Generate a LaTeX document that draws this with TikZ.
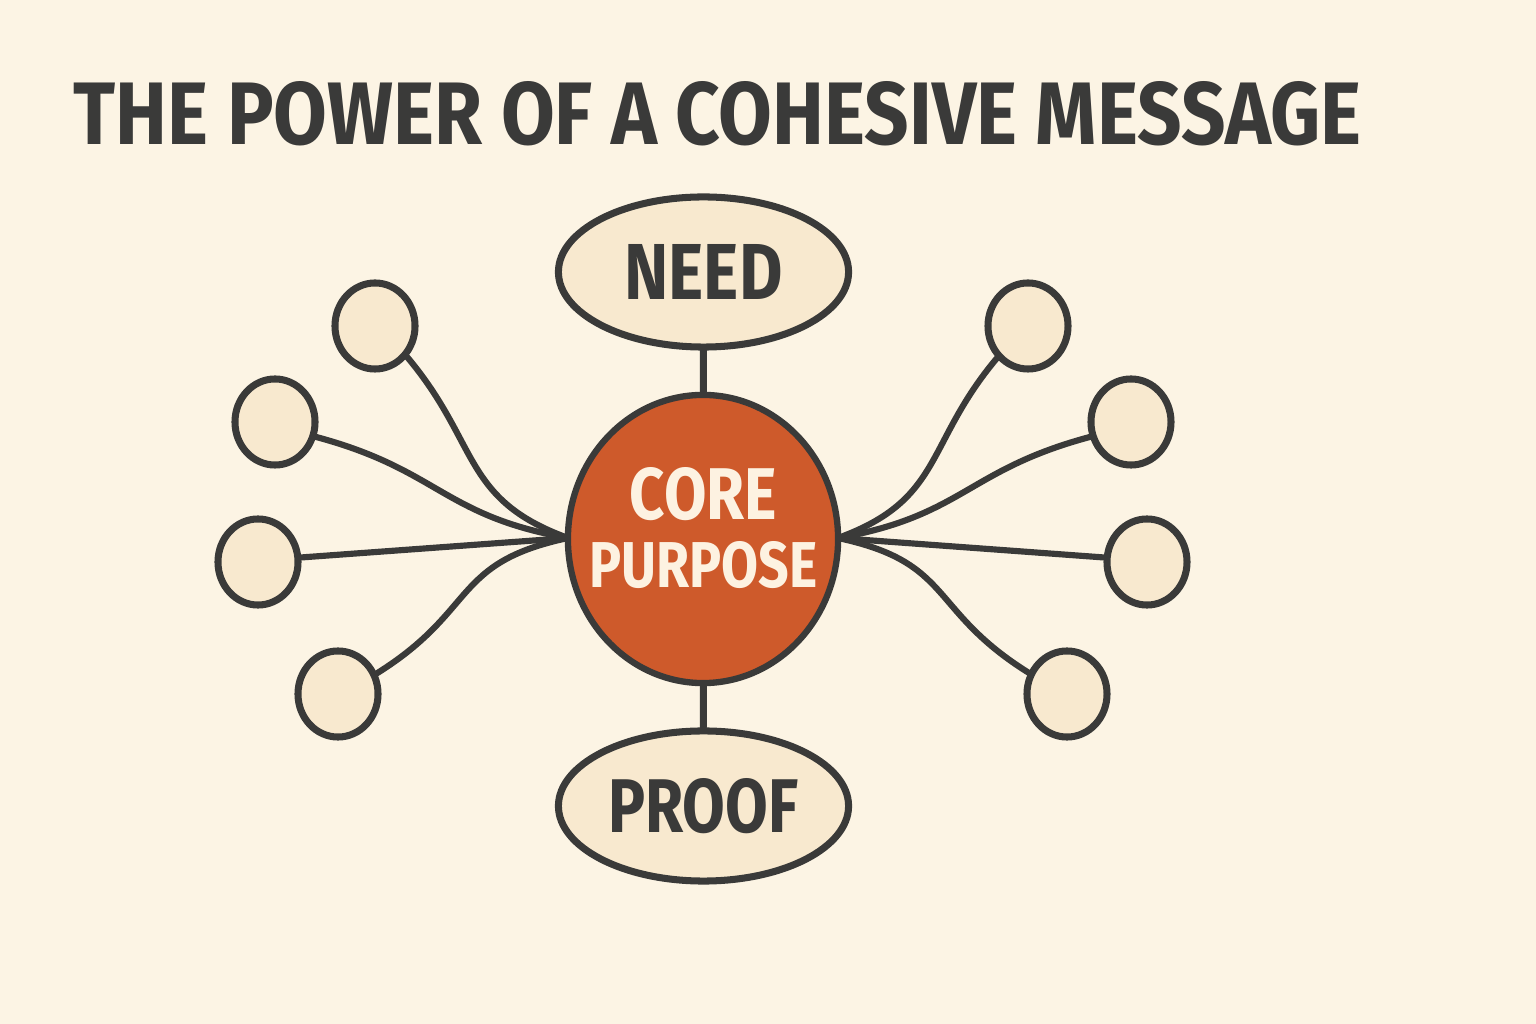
\documentclass[tikz,border=0pt]{standalone}
\usepackage{graphicx}
\usepackage{fontspec}
\setmainfont{Fira Sans}
\usetikzlibrary{shapes.geometric}
\definecolor{paper}{HTML}{FCF4E4}
\definecolor{ink}{HTML}{3A3A39}
\definecolor{leaffill}{HTML}{F8E9CF}
\definecolor{hubfill}{HTML}{CE5A2B}
\definecolor{hubtext}{HTML}{FDF2E1}
\tikzset{
  leaf/.style={ellipse,draw=ink,line width=2pt,fill=leaffill,
    minimum width=8mm,minimum height=8.6mm,inner sep=0pt},
  pill/.style={leaf,minimum width=29mm,minimum height=15mm},
  hub/.style={leaf,fill=hubfill,line width=1.8pt,minimum width=27mm,minimum height=28.8mm},
  word/.style={inner sep=0pt,anchor=base,font=\bfseries,text=ink},
  link/.style={draw=ink,line width=1.75pt,line cap=round},
}
\begin{document}
\begin{tikzpicture}[x=0.01cm,y=0.01cm]
  \fill[paper] (0,0) rectangle (1536,1024);
  \useasboundingbox (0,0) rectangle (1536,1024);
  \node[word,anchor=base west] (title) at (73,879)
    {\resizebox{12.87cm}{0.63cm}{THE POWER OF A COHESIVE MESSAGE}};
  % spokes first, so the shapes sit on top
  \coordinate (hubw) at (568,486);
  \coordinate (hube) at (838,486);
  \node[leaf] (l1) at (375,698) {};
  \node[leaf] (l2) at (275,602) {};
  \node[leaf] (l3) at (258,462) {};
  \node[leaf] (l4) at (338,330) {};
  \node[leaf] (r1) at (1028,698) {};
  \node[leaf] (r2) at (1131,602) {};
  \node[leaf] (r3) at (1147,462) {};
  \node[leaf] (r4) at (1067,330) {};
  \draw[link] (l1.-44) to[out=-50,in=160,looseness=1.2] (hubw);
  \draw[link] (l2.-20) to[out=-15,in=170,looseness=1.2] (hubw);
  \draw[link] (l3.6) -- (hubw);
  \draw[link] (l4.28) to[out=32,in=192,looseness=1.3] (hubw);
  \draw[link] (r1.-134) to[out=-130,in=20,looseness=1.2] (hube);
  \draw[link] (r2.-160) to[out=-165,in=10,looseness=1.2] (hube);
  \draw[link] (r3.174) -- (hube);
  \draw[link] (r4.151) to[out=148,in=-12,looseness=1.3] (hube);
  % hub and the two pills
  \node[hub] (core) at (703,485) {};
  \node[word,text=hubtext] (coretop) at (703.5,504) {\resizebox{1.47cm}{0.52cm}{CORE}};
  \node[word,text=hubtext] (corebot) at (703.5,436) {\resizebox{2.28cm}{0.46cm}{PURPOSE}};
  \node[pill,font=\bfseries,text=ink] (need) at (703.5,752) {\resizebox{1.58cm}{0.55cm}{NEED}};
  \node[pill,font=\bfseries,text=ink] (proof) at (703.5,218) {\resizebox{1.90cm}{0.54cm}{PROOF}};
  \draw[link,line width=2pt] (need) -- (core);
  \draw[link,line width=2pt] (proof) -- (core);
\end{tikzpicture}
\end{document}
